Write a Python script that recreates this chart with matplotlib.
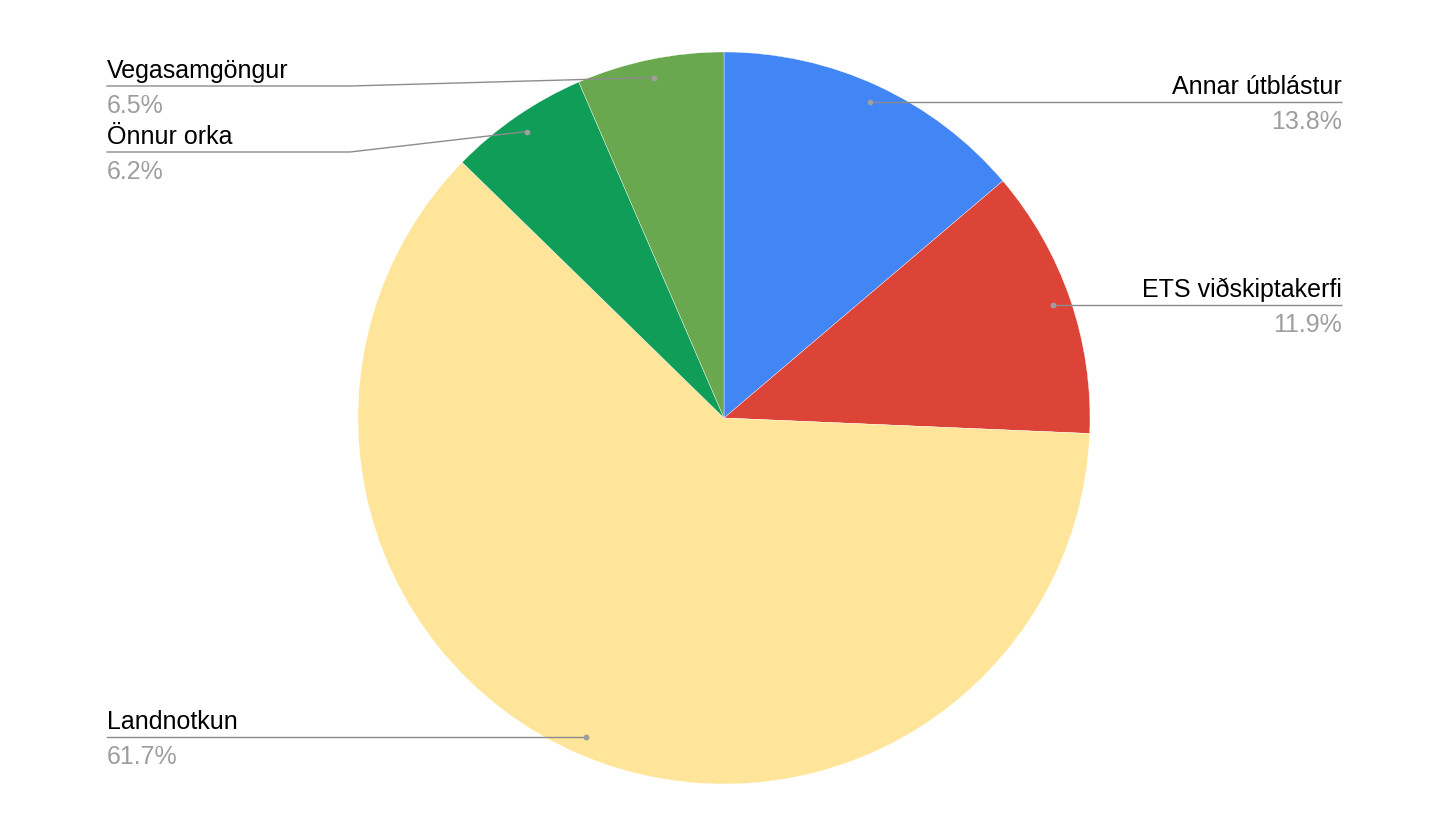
import numpy as np
import matplotlib
matplotlib.use("Agg")
import matplotlib.pyplot as plt

# ---- data ----
labels = ["Annar útblástur", "ETS viðskiptakerfi", "Landnotkun", "Önnur orka", "Vegasamgöngur"]
values = [13.8, 11.9, 61.7, 6.2, 6.5]
colors = ["#4285F4", "#DB4437", "#FEE599", "#0F9D58", "#6AA84F"]

W, H = 1450, 836
plt.rcParams['font.family'] = ['Liberation Sans', 'DejaVu Sans']

fig = plt.figure(figsize=(W / 100, H / 100), dpi=100)
ax = fig.add_axes([0, 0, 1, 1])

cx, cy, R = 724, H - 418, 366
ax.pie(values, colors=colors, startangle=90, counterclock=False,
       center=(cx, cy), radius=R,
       wedgeprops=dict(edgecolor="white", linewidth=0.25))
ax.set_xlim(0, W)
ax.set_ylim(0, H)
ax.set_aspect('equal')
ax.axis('off')

line_col = "#8c8c8c"
dot_col = "#9e9e9e"
name_col = "#000000"
pct_col = "#9e9e9e"
fs = 18

# layout overrides for crowded left labels (pixel y of label line, elbow x)
left_override = {3: H - 152, 4: H - 86}
elbow_x = 350
right_x, left_x = 1342, 107

total = sum(values)
cum = 0.0
for i, (lab, v) in enumerate(zip(labels, values)):
    mid = (cum + v / 2) / total * 2 * np.pi
    cum += v
    dx = cx + 0.95 * R * np.sin(mid)
    dy = cy + 0.95 * R * np.cos(mid)
    right = np.sin(mid) > 0
    ly = left_override.get(i, dy)
    if right:
        ax.plot([dx, right_x], [dy, ly], color=line_col, lw=1.0, solid_capstyle='butt', zorder=3)
        tx, ha = right_x, 'right'
    else:
        if i in left_override:
            ax.plot([dx, elbow_x, left_x], [dy, ly, ly], color=line_col, lw=1.0, zorder=3)
        else:
            ax.plot([dx, left_x], [dy, ly], color=line_col, lw=1.0, zorder=3)
        tx, ha = left_x, 'left'
    ax.plot([dx], [dy], 'o', ms=4.2, color=dot_col, mec='none', zorder=4)
    ax.text(tx, ly + 8, lab, ha=ha, va='baseline', fontsize=fs, color=name_col)
    ax.text(tx, ly - 27, f"{v:.1f}%", ha=ha, va='baseline', fontsize=fs, color=pct_col)

fig.savefig("out.png", dpi=100, facecolor="white")
